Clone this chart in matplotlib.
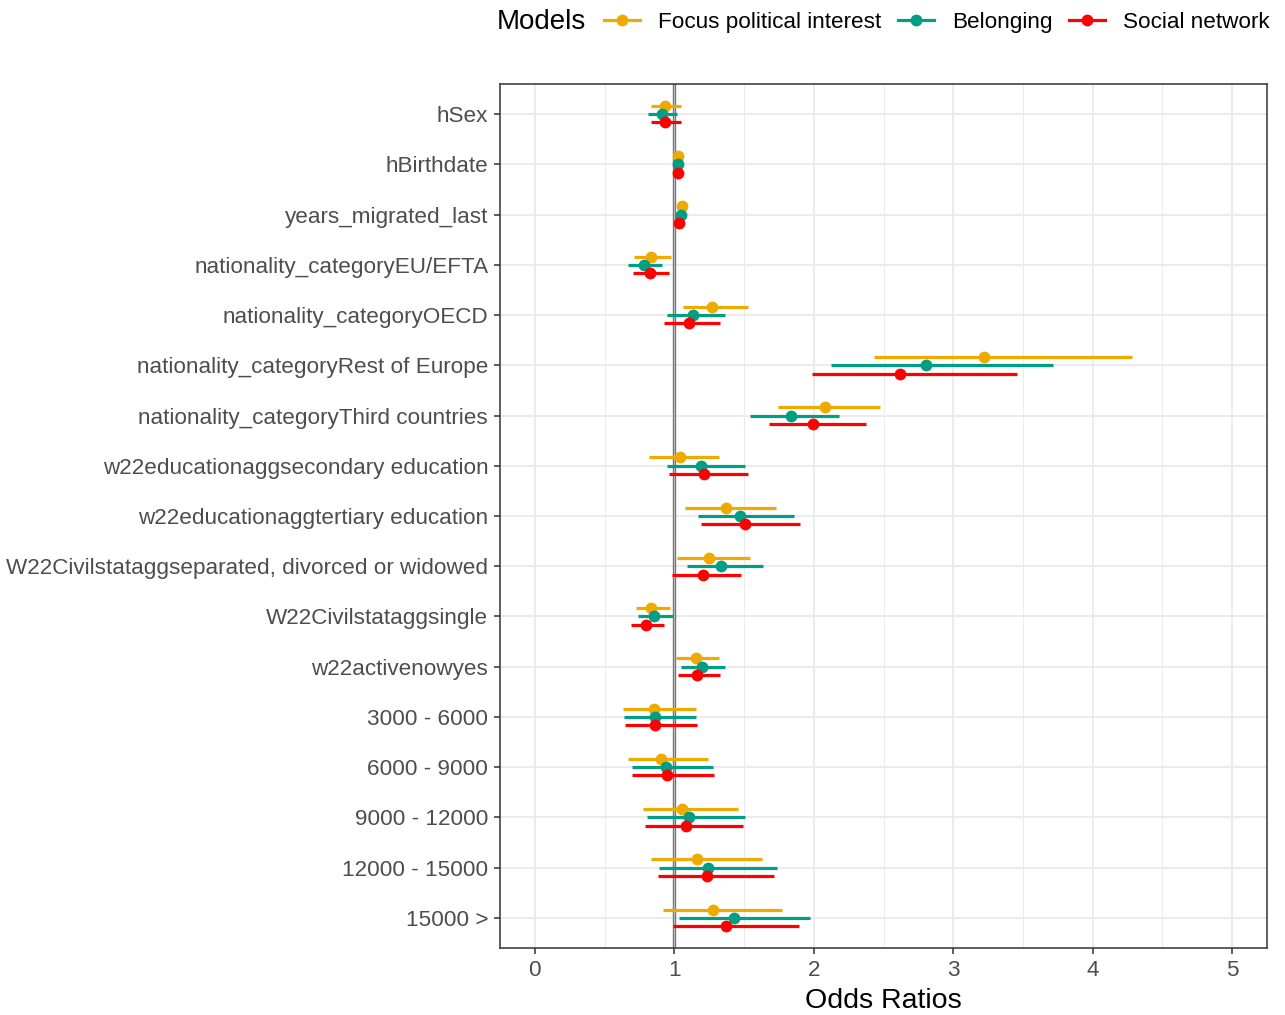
import matplotlib
matplotlib.use("Agg")
import matplotlib.pyplot as plt
from matplotlib.lines import Line2D
from matplotlib.offsetbox import HPacker
import numpy as np

plt.rcParams['font.family'] = ['Liberation Sans', 'DejaVu Sans']

terms = ["hSex", "hBirthdate", "years_migrated_last", "nationality_categoryEU/EFTA",
         "nationality_categoryOECD", "nationality_categoryRest of Europe",
         "nationality_categoryThird countries", "w22educationaggsecondary education",
         "w22educationaggtertiary education", "W22Civilstataggseparated, divorced or widowed",
         "W22Civilstataggsingle", "w22activenowyes", "3000 - 6000", "6000 - 9000",
         "9000 - 12000", "12000 - 15000", "15000 >"]

models = ["Focus political interest", "Belonging", "Social network"]
colors = ["#EFAA00", "#009E85", "#FF0000"]

focus_or = [0.932, 1.028, 1.052, 0.832, 1.272, 3.222, 2.077, 1.038, 1.370, 1.249, 0.836, 1.154, 0.851, 0.908, 1.054, 1.166, 1.274]
focus_lo = [0.83, 1.022, 1.046, 0.71, 1.059, 2.43, 1.742, 0.822, 1.079, 1.016, 0.722, 1.013, 0.633, 0.669, 0.772, 0.832, 0.920]
focus_hi = [1.05, 1.034, 1.058, 0.973, 1.53, 4.285, 2.477, 1.318, 1.732, 1.540, 0.970, 1.317, 1.152, 1.238, 1.458, 1.632, 1.771]

belong_or = [0.913, 1.025, 1.047, 0.781, 1.135, 2.808, 1.838, 1.192, 1.474, 1.332, 0.853, 1.195, 0.858, 0.939, 1.102, 1.243, 1.429]
belong_lo = [0.81, 1.019, 1.041, 0.67, 0.949, 2.126, 1.545, 0.948, 1.167, 1.088, 0.741, 1.049, 0.638, 0.695, 0.803, 0.889, 1.035]
belong_hi = [1.02, 1.031, 1.053, 0.915, 1.365, 3.715, 2.184, 1.504, 1.860, 1.636, 0.989, 1.360, 1.157, 1.278, 1.508, 1.735, 1.976]

social_or = [0.932, 1.025, 1.035, 0.825, 1.107, 2.616, 1.997, 1.211, 1.504, 1.208, 0.796, 1.166, 0.863, 0.944, 1.087, 1.233, 1.374]
social_lo = [0.83, 1.019, 1.029, 0.705, 0.925, 1.986, 1.682, 0.959, 1.192, 0.984, 0.691, 1.025, 0.645, 0.700, 0.793, 0.884, 0.994]
social_hi = [1.047, 1.031, 1.041, 0.963, 1.326, 3.458, 2.375, 1.526, 1.904, 1.479, 0.925, 1.329, 1.164, 1.281, 1.489, 1.718, 1.895]

series = [(focus_or, focus_lo, focus_hi), (belong_or, belong_lo, belong_hi), (social_or, social_lo, social_hi)]
offsets = [-0.165, 0.0, 0.165]

fig = plt.figure(figsize=(12.85, 10.15), dpi=100)
ax = fig.add_axes([500/1285, 1-948/1015, 767/1285, 864/1015])

ypos = np.arange(1, len(terms) + 1)

# grid
for x in np.arange(0.5, 5.5, 1.0):
    ax.axvline(x, color="#EBEBEB", lw=0.7, zorder=0)
for x in range(0, 6):
    ax.axvline(x, color="#EBEBEB", lw=1.4, zorder=0)
for y in ypos:
    ax.axhline(y, color="#EBEBEB", lw=1.4, zorder=0)

ax.axvline(1, color="#666666", lw=2.4, zorder=1)
ax.axvline(1, color="#BBBBBB", lw=1.0, zorder=1)

for (orv, lo, hi), off, c in zip(series, offsets, colors):
    yy = ypos + off
    ax.hlines(yy, lo, hi, color=c, lw=2.3, zorder=3)
    ax.plot(orv, yy, 'o', color=c, ms=8.5, zorder=4, markeredgewidth=0)

ax.set_xlim(-0.25, 5.25)
ax.set_ylim(17.6, 0.4)
ax.set_yticks(ypos)
ax.set_yticklabels(terms)
ax.set_xticks(range(0, 6))
ax.tick_params(axis='both', labelsize=16.2, labelcolor="#4D4D4D", color="#333333", length=4.5, width=1.1)
ax.tick_params(axis='y', pad=4)
ax.tick_params(axis='x', pad=4)
ax.set_xlabel("Odds Ratios", fontsize=20.5, color="black", labelpad=5)
for s in ax.spines.values():
    s.set_color("#333333")
    s.set_linewidth(1.1)

handles = [Line2D([0], [0], color=c, lw=2.3, marker='o', ms=8.5, markeredgewidth=0) for c in colors]
leg = fig.legend(handles, models, loc='upper right', bbox_to_anchor=(1.004, 1.011), ncol=3,
                 frameon=False, fontsize=16.2, title="Models", title_fontsize=20,
                 handlelength=1.6, handletextpad=0.8, columnspacing=0.75)
title = leg._legend_title_box
handlebox = leg._legend_handle_box
leg._legend_box._children = [HPacker(children=[title, handlebox], align="center", pad=0, sep=13)]

fig.savefig("out.png", dpi=100)
